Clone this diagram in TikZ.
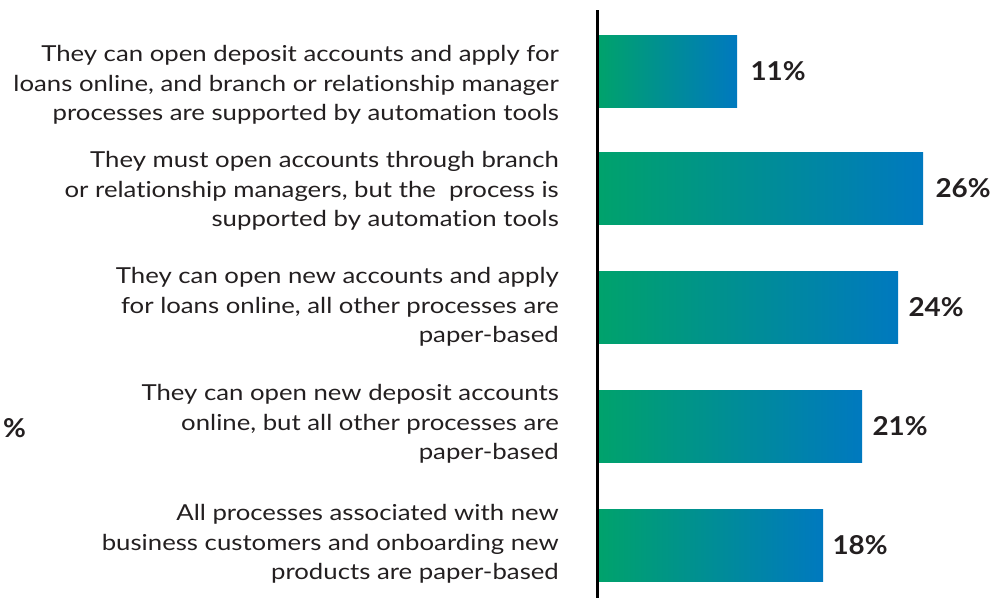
\documentclass[tikz,border=0pt]{standalone}
\usepackage{fontspec}
\setmainfont{Lato}
\newfontfamily\lblfont[FakeStretch=1.17,Ligatures=NoCommon]{Lato}
\newfontfamily\pctfont[FakeStretch=1.07]{Lato}
\definecolor{txt}{RGB}{35,31,32}
\definecolor{gA}{RGB}{0,162,108}
\definecolor{gB}{RGB}{0,121,191}
\begin{document}
\begin{tikzpicture}[x=1pt,y=-1pt,
  lbl/.style={anchor=east,align=right,inner sep=0pt,text=txt,
    font=\lblfont\fontsize{22}{29.5}\selectfont},
  bar/.style={anchor=west,draw=none,inner sep=0pt,minimum height=72pt,
    left color=gA,right color=gB},
  pct/.style={anchor=west,inner sep=0pt,text=txt,font=\pctfont\fontsize{26}{30}\selectfont\bfseries}]
\useasboundingbox (0,0) rectangle (991,598);
\coordinate (axtop) at (597.5,10);
\coordinate (axbot) at (597.5,598);
\draw[line width=2.5pt,black] (axtop) -- (axbot);

\node[lbl] (l1) at (559,85) {They can open deposit accounts and apply for\\loans online, and branch or relationship manager\\processes are supported by automation tools};
\node[lbl] (l2) at (559,191) {They must open accounts through branch\\or relationship managers, but the\ \ process is\\supported by automation tools};
\node[lbl] (l3) at (559,307) {They can open new accounts and apply\\for loans online, all other processes are\\paper-based};
\node[lbl] (l4) at (559,424) {They can open new deposit accounts\\online, but all other processes are\\paper-based};
\node[lbl] (l5) at (559,544) {All processes associated with new\\business customers and onboarding new\\products are paper-based};

\node[bar,minimum width=138pt] (b1) at (599,71) {};
\node[bar,minimum width=324pt] (b2) at (599,188.5) {};
\node[bar,minimum width=299pt] (b3) at (599,307.5) {};
\node[bar,minimum width=263pt] (b4) at (599,426.5) {};
\node[bar,minimum width=224pt] (b5) at (599,545) {};

\node[pct] (p1) at ([xshift=13pt]b1.east) {11\%};
\node[pct] (p2) at ([xshift=12pt]b2.east) {26\%};
\node[pct] (p3) at ([xshift=10pt]b3.east) {24\%};
\node[pct] (p4) at ([xshift=10pt]b4.east) {21\%};
\node[pct] (p5) at ([xshift=9pt]b5.east) {18\%};

\node[pct] (pl) at (3,428) {\%};
\end{tikzpicture}
\end{document}
